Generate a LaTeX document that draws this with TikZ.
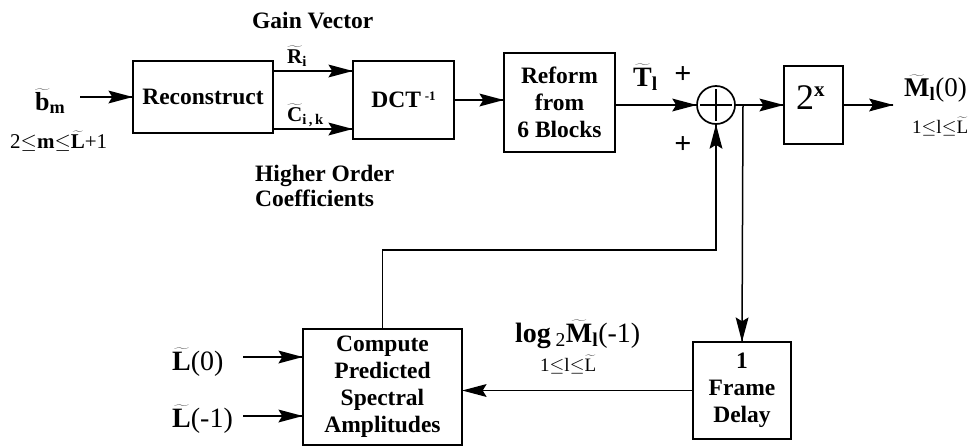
\RequirePackage{fix-cm}
\documentclass[tikz,border=0pt]{standalone}
\usepackage{fontspec}
\setmainfont{Liberation Serif}
\usetikzlibrary{arrows.meta,decorations.markings}
\newcommand\tld[1]{\ensuremath{\widetilde{\hbox{#1}}}}
\newcommand\fs[1]{\fontsize{#1}{#1}\selectfont}
\newcommand\sbs[1]{\textsubscript{#1}}
\begin{document}
\begin{tikzpicture}[x=1pt,y=-1pt,
  blk/.style={draw, line width=1.4pt, font=\bfseries\fontsize{23.5}{27}\selectfont, align=center, inner sep=0pt},
  arr/.style={line width=1.5pt,
    decoration={markings, mark=at position 1 with {\fill (0.5pt,0pt) -- (-24pt,6.5pt) -- (-20pt,0pt) -- (-24pt,-6.5pt) -- cycle;}},
    postaction=decorate},
  lbl/.style={inner sep=0pt, anchor=base west},
]
\useasboundingbox (0,0) rectangle (980,447);

% blocks
\node[blk, minimum width=140pt, minimum height=72pt] (rec) at (203,97) {Reconstruct};
\node[blk, minimum width=101pt, minimum height=78pt] (dct) at (403.5,100) {DCT\,\raisebox{7pt}{\fs{13}-1}};
\node[blk, minimum width=111pt, minimum height=99pt] (ref) at (559.5,102.5) {Reform\\from\\6 Blocks};
\node[draw, circle, line width=1.7pt, minimum size=38pt, inner sep=0pt] (sum) at (716,105) {};
\draw[line width=2.8pt] ([yshift=16pt]sum.center) -- ([yshift=-16pt]sum.center);
\draw[line width=2.8pt] ([xshift=-16pt]sum.center) -- ([xshift=16pt]sum.center);
\node[blk, minimum width=59pt, minimum height=78pt] (exp) at (813.5,105) {};
\node[lbl] (expt) at (796,109) {\fs{36}2\raisebox{13pt}{\bfseries\fs{21}x}};
\node[blk, minimum width=98pt, minimum height=97pt] (del) at (742,390.5) {1\\Frame\\Delay};
\node[blk, minimum width=159pt, minimum height=116pt] (cmp) at (382.5,387) {Compute\\Predicted\\Spectral\\Amplitudes};

% labels
\node[lbl, font=\bfseries\fs{26}] (bm) at (35,110) {\tld{b}\sbs{m}};
\node[lbl, font=\fs{21}] (bmr) at (10,148) {2$\leq$\textbf{m}$\leq$\textbf{\tld{L}}+1};
\node[lbl, font=\bfseries\fs{23.5}] (gain) at (252,28) {Gain Vector};
\node[lbl, font=\bfseries\fs{21}] (rl) at (287,63) {\tld{R}\sbs{i}};
\node[lbl, font=\bfseries\fs{21}] (cl) at (287,121) {\tld{C}\sbs{i\,,\,k}};
\node[lbl, font=\bfseries\fs{23.5}, align=left, anchor=north west] (hoc) at (255,165) {Higher Order\\[1pt]Coefficients};
\node[lbl, font=\bfseries\fs{28}] (tl) at (633,86) {\tld{T}\sbs{l}};
\node[inner sep=0pt, font=\bfseries\fs{30}] (p1) at (683,75) {+};
\node[inner sep=0pt, font=\bfseries\fs{30}] (p2) at (683,145) {+};
\node[lbl, font=\fs{27}] (ml) at (904,96) {\textbf{\tld{M}\sbs{l}}(0)};
\node[lbl, font=\fs{19}] (mlr) at (912,133) {1$\leq$l$\leq$\tld{L}};
\node[lbl, font=\fs{28}] (lg) at (515,342) {\textbf{log}\,\sbs{2}\textbf{\tld{M}\sbs{l}}(-1)};
\node[lbl, font=\fs{19}] (lgr) at (540,371) {1$\leq$l$\leq$\tld{L}};
\node[lbl, font=\fs{28}] (l0) at (172,370) {\textbf{\tld{L}}(0)};
\node[lbl, font=\fs{28}] (l1) at (172,427) {\textbf{\tld{L}}(-1)};

% connector ends
\coordinate (bin) at (80,97);
\coordinate (a0) at (243,357);
\coordinate (a1) at (243,416);
\coordinate (dR) at ([yshift=29pt]dct.west);
\coordinate (dC) at ([yshift=-29pt]dct.west);
\coordinate (out) at (893,105);
\coordinate (br) at (743,105);
\coordinate (fb) at (716,250);

% connectors
\draw[arr] (bin) -- (rec.west);
\draw[arr] (rec.east |- dR) -- (dR);
\draw[arr] (rec.east |- dC) -- (dC);
\draw[arr] (dct.east) -- (ref.west |- dct.east);
\draw[arr] (ref.east |- sum) -- (sum.west);
\draw[arr] (sum.east) -- (exp.west);
\draw[arr] (exp.east) -- (out);
\draw[arr] (br) -- (del.north);
\draw[arr] (del.west) -- (cmp.east |- del.west);
\draw[arr] (cmp.north) |- (fb) -- (sum.south);
\draw[arr] (a0) -- (cmp.west |- a0);
\draw[arr] (a1) -- (cmp.west |- a1);
\end{tikzpicture}
\end{document}
